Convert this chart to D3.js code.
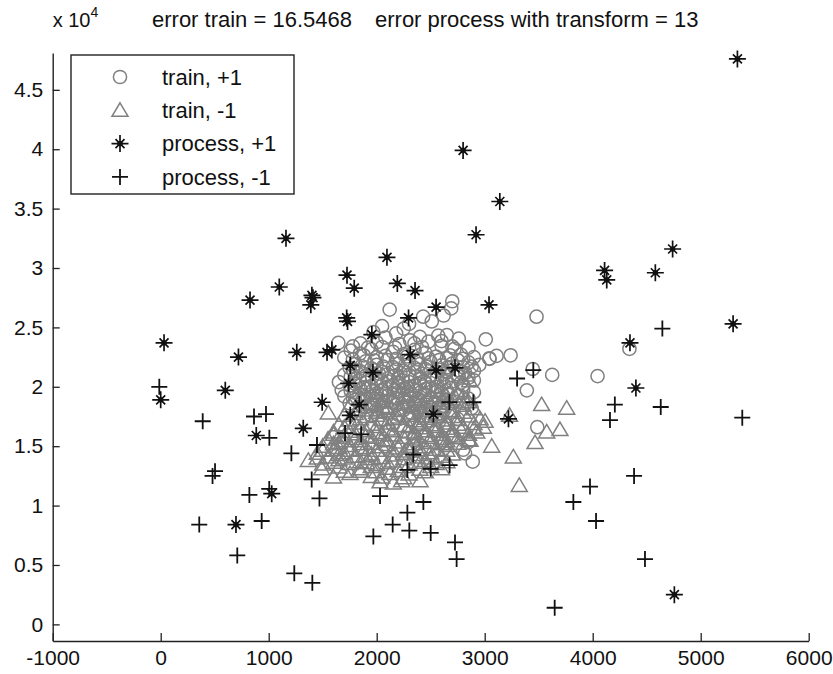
<!DOCTYPE html>
<html>
<head>
<meta charset="utf-8">
<script src="https://cdn.jsdelivr.net/npm/d3@7"></script>
<style>
  body { margin: 0; background: #fff; }
  svg text { font-family: "Liberation Sans", Arial, Helvetica, sans-serif; fill: #111; }
</style>
</head>
<body>
<svg id="chart" width="833" height="674"></svg>
<script>
// ---- data -------------------------------------------------------------
const titleLeft = "error train = 16.5468";
const titleRight = "error process with transform = 13";
const seriesNames = ["train, +1", "train, -1", "process, +1", "process, -1"];

const xTicks = [-1000, 0, 1000, 2000, 3000, 4000, 5000, 6000];
const xTickLabels = ["-1000", "0", "1000", "2000", "3000", "4000", "5000", "6000"];
const yTicks = [0, 5000, 10000, 15000, 20000, 25000, 30000, 35000, 40000, 45000];
const yTickLabels = ["0", "0.5", "1", "1.5", "2", "2.5", "3", "3.5", "4", "4.5"];
const xDomain = [-1000, 6000];
const yDomain = [-1400, 48100];

// training samples, class +1
const trainPos = [
  [2700,27200],[2120,26500],[2690,26600],[2430,25900],[2620,26000],[2510,25500],[2300,25300],[2250,24900],[2050,25100],
  [1970,24600],[2180,24500],[2570,24300],[2400,24200],[2650,24350],[2080,24150],[3010,24000],[2310,23900],[2760,24050],
  [1645,23700],[1850,23650],[2480,23800],[2210,23600],[2050,23350],[2600,23450],[2850,23300],
  [1760,23050],[1950,23150],[2350,23100],[2720,23200],[2150,22950],
  [1845,22800],[2250,22750],[2450,22850],[2780,22700],[3110,22600],
  [1700,22450],[2000,22500],[2550,22550],[2650,22400],[2900,22500],[3240,22650],[3045,22350],
  [1900,22150],[2100,22250],[2300,22200],[2500,22100],[2750,22250],[2850,22050],
  [1800,21900],[2000,21850],[2200,21950],[2400,21900],[2600,21800],[2700,21950],[2950,21850],
  [1750,21600],[1950,21550],[2150,21650],[2350,21600],[2450,21500],[2800,21650],
  [1850,21300],[2050,21250],[2250,21350],[2550,21300],[2650,21200],[2900,21350],[3445,21500],
  [1700,21000],[1900,20950],[2100,21050],[2300,21000],[2500,20900],[2750,21050],[3625,21000],
  [1800,20700],[2000,20650],[2200,20750],[2400,20700],[2600,20600],[2850,20750],
  [1650,20400],[1900,20350],[2100,20450],[2300,20400],[2450,20300],[2700,20450],[4045,20900],
  [1750,20100],[1950,20050],[2150,20150],[2350,20100],[2550,20000],[2800,20150],
  [1676,19700],[1850,19800],[2050,19750],[2250,19850],[2450,19800],[2650,19700],[3390,19700],
  [1800,19500],[2000,19450],[2200,19550],[2400,19500],[2600,19400],[2900,19550],
  [1700,19200],[1900,19150],[2100,19250],[2300,19200],[2500,19100],[2750,19250],
  [1800,18900],[2000,18850],[2200,18950],[2400,18900],[2650,18850],
  [1750,18600],[1950,18550],[2150,18650],[2350,18600],[2550,18500],[2800,18650],
  [1900,18300],[2100,18250],[2300,18350],[2500,18300],[2880,18200],
  [1850,18000],[2050,17950],[2250,18050],[2450,18000],[2700,17900],
  [1950,17600],[2200,17650],[2400,17550],[2600,17650],
  [2050,17200],[2300,17250],[2500,17150],[2750,17300],
  [2150,16800],[2400,16850],[2650,16750],[3487,16600],
  [2250,16300],[2550,16350],[2800,16250],
  [2350,15800],[2700,15850],[2600,15300],[2850,15350],[2800,14700],[2818,14400],[2889,13700],
  [4340,23200],[3480,25900],[3043,22400],
  [1880,22650],[2080,22600],[2280,22550],[2480,22400],[2680,22650],
  [1780,22300],[1980,22200],[2180,22350],[2380,22300],[2580,22250],[2800,22350],
  [1860,21750],[2060,21700],[2260,21800],[2460,21700],[2660,21650],[2880,21700],
  [1780,21450],[1980,21400],[2180,21450],[2380,21400],[2580,21450],[2750,21400],
  [1820,21150],[2020,21100],[2220,21150],[2420,21100],[2620,21050],[2820,21150],
  [1760,20850],[1960,20800],[2160,20900],[2360,20850],[2560,20800],[2760,20850],
  [1840,20550],[2040,20500],[2240,20550],[2440,20500],[2640,20450],[2900,20550],
  [1800,20250],[2000,20250],[2200,20300],[2400,20250],[2620,20250],[2780,20350],
  [1880,19950],[2080,19900],[2280,19950],[2480,19950],[2680,19900],
  [1760,19650],[1960,19650],[2160,19700],[2360,19650],[2560,19600],[2800,19700],
  [1840,19350],[2040,19300],[2240,19350],[2440,19300],[2660,19350],
  [1780,19050],[1980,19000],[2180,19050],[2380,19000],[2580,19000],[2850,19000],
  [1860,18750],[2060,18700],[2260,18750],[2460,18700],[2720,18750],
  [1980,18400],[2180,18450],[2400,18400],[2620,18400],
  [2000,18100],[2200,18150],[2380,18150],[2580,18100],
  [2100,17800],[2320,17800],[2520,17850],
  [1920,23300],[2170,23300],[2420,23350],[2700,23400],
  [2000,23750],[2350,23650],[2600,23850],[1780,23400]
];

// training samples, class -1
const trainNeg = [
  [2830,21000],[2860,20500],[2200,20400],[1900,20000],[2300,20050],[2600,19950],
  [2000,19500],[2450,19550],[2750,19450],
  [1850,19000],[2150,19050],[2350,18950],[2700,19000],
  [1950,18500],[2250,18550],[2500,18450],[2650,18600],[3527,18500],
  [3759,18200],[2100,18200],[2400,18250],[2900,18150],
  [1552,17800],[1800,17750],[2000,17850],[2300,17800],[2550,17750],[2800,17850],
  [1900,17500],[2200,17450],[2450,17550],[2700,17500],[3230,17600],
  [1750,17200],[2050,17250],[2350,17150],[2600,17200],[2957,17300],[3003,17100],
  [1650,16800],[1950,16850],[2250,16750],[2500,16800],[2750,16850],[2987,16600],
  [1850,16500],[2100,16450],[2400,16550],[2650,16500],[2900,16450],
  [1600,16200],[1750,16250],[2000,16150],[2300,16200],[2550,16250],[2926,16200],[3574,16200],[3697,16400],
  [1700,15900],[1900,15850],[2150,15950],[2450,15900],[2700,15850],
  [1550,15600],[1800,15650],[2050,15550],[2350,15600],[2600,15650],[2850,15550],
  [1650,15300],[1950,15250],[2200,15350],[2500,15300],[2750,15250],[3466,15300],
  [1500,15000],[1750,15050],[2050,14950],[2300,15000],[2650,15050],[2864,15500],[3065,15000],
  [1600,14700],[1850,14750],[2150,14650],[2400,14700],[2550,14750],
  [1450,14400],[1700,14450],[1950,14350],[2250,14400],[2500,14450],[2700,14350],
  [1550,14100],[1800,14150],[2050,14050],[2350,14100],[2600,14150],[3265,14100],
  [1367,13800],[1650,13850],[1907,13600],[2150,13750],[2450,13800],[2650,13700],
  [1500,13500],[1750,13550],[2000,13450],[2300,13500],[2550,13550],
  [1491,13100],[1845,13100],[2100,13150],[2400,13050],[2600,13100],
  [1753,12700],[2046,12400],[2123,12700],[2300,12650],
  [1600,12400],[1950,12450],[2250,12350],
  [2031,12000],[2231,12100],[2401,12100],[2154,11900],[3320,11700],
  [2080,19750],[2300,19700],[2530,19700],
  [1950,19250],[2250,19250],[2500,19250],[2800,19200],
  [2050,18800],[2400,18750],[2600,18850],[2850,18750],
  [1750,18400],[2050,18350],[2330,18400],[2600,18350],[2800,18450],
  [1900,18050],[2200,18000],[2450,18050],[2700,18000],
  [1700,17600],[2000,17600],[2300,17600],[2550,17500],[2850,17550],
  [1850,17300],[2150,17300],[2450,17350],[2750,17250],
  [1800,16950],[2100,16950],[2400,16950],[2650,16950],[2900,16900],
  [1700,16600],[2000,16650],[2300,16650],[2550,16650],[2800,16600],
  [1900,16300],[2150,16300],[2450,16300],[2700,16300],
  [1600,16000],[1800,16050],[2050,16000],[2350,16050],[2600,16000],[2850,16000],
  [1650,15750],[1950,15750],[2250,15750],[2500,15750],[2750,15700],
  [1700,15450],[1850,15450],[2100,15450],[2400,15450],[2650,15450],
  [1600,15200],[1850,15200],[2100,15150],[2350,15200],[2600,15200],
  [1650,14900],[1900,14900],[2200,14850],[2450,14950],
  [1500,14650],[1750,14650],[2000,14650],[2300,14600],[2650,14650],
  [1650,14300],[1900,14200],[2150,14250],[2400,14300],
  [1450,14000],[1700,14000],[1950,13950],[2250,13950],[2500,14000],
  [1600,13650],[1850,13700],[2100,13600],[2400,13650],
  [1650,13250],[1950,13300],[2250,13300],[2500,13300],
  [1850,12900],[2000,12850],[2200,12950],[2450,12850],[1700,12900]
];

// processed samples, class +1
const processPos = [
  [5340,47600],[2800,39900],[3140,35600],[2920,32800],[4740,31600],[4110,29800],[4130,29000],
  [4580,29600],[5300,25300],[4345,23700],[4400,19900],[3040,26900],[2550,26700],[2355,28100],
  [2295,25800],[2310,22700],[2550,21400],[2725,21600],[2525,17700],[3220,17300],[4756,2500],
  [0,18900],[720,22500],[1260,22900],[1540,22900],[1585,23100],[598,19700],[885,15900],
  [1320,16500],[1495,18700],[827,27300],[1390,26900],[1400,27700],[1410,27500],[1722,25800],
  [1730,25500],[1955,24400],[1755,21800],[1965,21200],[1740,20300],[1839,18500],[1755,17600],
  [1160,32500],[2095,30900],[1725,29400],[2191,28700],[1792,28300],[1098,28400],[31,23700],
  [1028,11000],[697,8400]
];

// processed samples, class -1
const processNeg = [
  [-13,20000],[389,17100],[864,17500],[975,17700],[1006,15700],[1210,14400],[1447,15100],
  [1707,16100],[1856,16000],[503,12900],[480,12500],[1398,12200],[821,10900],[1005,11400],
  [1470,10600],[2031,10800],[357,8400],[935,8700],[709,5800],[1237,4300],[1404,3500],
  [1969,7400],[2148,8400],[2284,9400],[2302,7900],[2284,13000],[2339,14300],[2500,13100],
  [2675,13400],[2432,10300],[2500,7700],[2725,6900],[2740,5500],[2673,18700],[2895,18700],
  [3300,20700],[3450,21400],[3975,11600],[3821,10300],[4031,8700],[4383,12500],[4484,5500],
  [3648,1400],[4645,24900],[4205,18500],[4160,17200],[4630,18300],[5385,17400]
];

// ---- layout ----------------------------------------------------------
const plot = { left: 52.7, right: 808.7, top: 53, bottom: 641 };
const FONT = 21;
const GRAY = "#808080", INK = "#111";

const svg = d3.select("#chart");
const x = d3.scaleLinear().domain(xDomain).range([plot.left, plot.right]);
const y = d3.scaleLinear().domain(yDomain).range([plot.bottom, plot.top]);

// marker painters
const markers = {
  circle: g => g.append("circle").attr("r", 6.6)
    .attr("fill", "none").attr("stroke", GRAY).attr("stroke-width", 1.5),
  triangle: g => g.append("path").attr("d", "M0,-7.5L8,6L-8,6Z")
    .attr("fill", "none").attr("stroke", GRAY).attr("stroke-width", 1.5).attr("stroke-linejoin", "miter"),
  star: g => {
    g.append("path").attr("d", "M-8.5,0H8.5M0,-8.5V8.5M-4.5,-4.5L4.5,4.5M-4.5,4.5L4.5,-4.5")
      .attr("stroke", INK).attr("stroke-width", 1.7).attr("fill", "none");
    g.append("circle").attr("r", 2.7).attr("fill", INK);
  },
  plus: g => g.append("path").attr("d", "M-8,0H8M0,-8V8")
    .attr("stroke", INK).attr("stroke-width", 1.8).attr("fill", "none")
};

const series = [
  { name: seriesNames[0], data: trainPos, marker: "circle" },
  { name: seriesNames[1], data: trainNeg, marker: "triangle" },
  { name: seriesNames[2], data: processPos, marker: "star" },
  { name: seriesNames[3], data: processNeg, marker: "plus" }
];

// ---- points ------------------------------------------------------------
const pts = svg.append("g").attr("class", "points");
series.forEach(s => {
  pts.append("g").selectAll("g")
    .data(s.data)
    .join("g")
    .attr("transform", d => `translate(${x(d[0])},${y(d[1])})`)
    .each(function () { markers[s.marker](d3.select(this)); });
});

// ---- axes --------------------------------------------------------------
const xAxis = d3.axisBottom(x)
  .tickValues(xTicks)
  .tickFormat((d, i) => xTickLabels[i])
  .tickSizeInner(-8).tickSizeOuter(0).tickPadding(9);
const yAxis = d3.axisLeft(y)
  .tickValues(yTicks)
  .tickFormat((d, i) => yTickLabels[i])
  .tickSizeInner(-7).tickSizeOuter(0).tickPadding(9.5);

function styleAxis(g) {
  g.attr("font-size", null).attr("font-family", null);
  g.select(".domain").attr("stroke", "#222").attr("stroke-width", 1.4);
  g.selectAll(".tick line").attr("stroke", "#222").attr("stroke-width", 1.3);
  g.selectAll(".tick text").attr("font-size", FONT).attr("fill", INK);
}

svg.append("g").attr("transform", `translate(0,${plot.bottom})`).call(xAxis).call(styleAxis);
svg.append("g").attr("transform", `translate(${plot.left},0)`).call(yAxis).call(styleAxis);

// exponent label above the y axis
const expo = svg.append("text").attr("x", plot.left).attr("y", 27).attr("font-size", 20);
expo.append("tspan").text("x 10");
expo.append("tspan").attr("dy", -10).attr("font-size", 14).text("4");

// title
const title = svg.append("text").attr("y", 27).attr("font-size", 22);
title.append("tspan").attr("x", 152).text(titleLeft);
title.append("tspan").attr("x", 375).text(titleRight);

// ---- legend ------------------------------------------------------------
const legend = svg.append("g").attr("class", "legend");
legend.append("rect")
  .attr("x", 71).attr("y", 55).attr("width", 223).attr("height", 139)
  .attr("fill", "#fff").attr("stroke", "#222").attr("stroke-width", 1.4);
series.forEach((s, i) => {
  const row = legend.append("g").attr("transform", `translate(0,${77 + i * 33.3})`);
  markers[s.marker](row.append("g").attr("transform", "translate(120,0)"));
  row.append("text").attr("x", 162).attr("dy", "0.35em").attr("font-size", 22).text(s.name);
});
</script>
</body>
</html>
